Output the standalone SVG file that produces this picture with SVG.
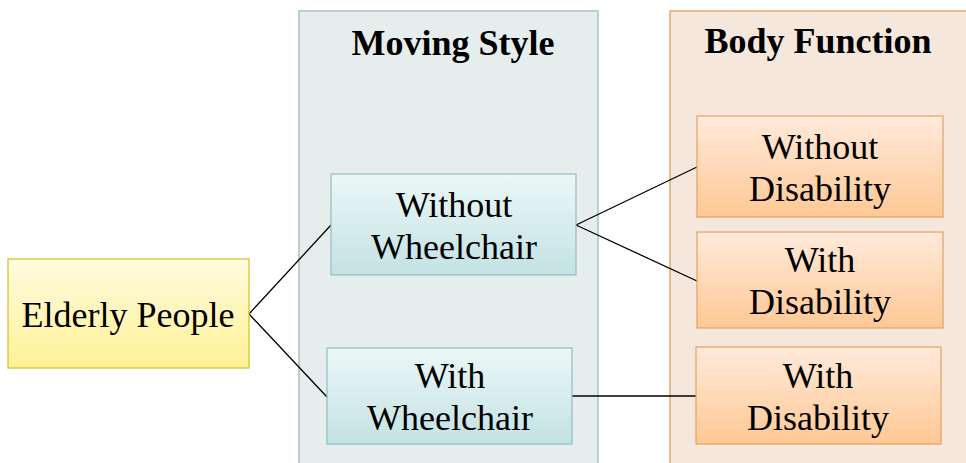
<svg xmlns="http://www.w3.org/2000/svg" width="966" height="463" viewBox="0 0 966 463">
  <defs>
    <linearGradient id="gYellow" x1="0" y1="0" x2="0" y2="1">
      <stop offset="0" stop-color="#fffbdf"/>
      <stop offset="1" stop-color="#fff196"/>
    </linearGradient>
    <linearGradient id="gTeal" x1="0" y1="0" x2="0" y2="1">
      <stop offset="0" stop-color="#ecf7f7"/>
      <stop offset="1" stop-color="#c3e2e3"/>
    </linearGradient>
    <linearGradient id="gOrange" x1="0" y1="0" x2="0" y2="1">
      <stop offset="0" stop-color="#ffeadb"/>
      <stop offset="1" stop-color="#ffc894"/>
    </linearGradient>
  </defs>
  <style>
    text { font-family: "Liberation Serif", "Times New Roman", serif; font-size: 36px; fill: #000; text-anchor: middle; }
    .title { font-weight: bold; }
    .panel-move { fill: #e6eeed; stroke: #a5c3c6; stroke-width: 1.5; }
    .panel-body { fill: #f5e7dc; stroke: #e3a870; stroke-width: 1.5; }
    .root { fill: url(#gYellow); stroke: #d6bd2a; stroke-width: 1.2; }
    .teal { fill: url(#gTeal); stroke: #93bcc0; stroke-width: 1.2; }
    .orange { fill: url(#gOrange); stroke: #e3a060; stroke-width: 1.2; }
    .link { stroke: #000; stroke-width: 1.3; fill: none; }
  </style>

  <!-- category panels -->
  <g id="panel-moving-style">
    <rect class="panel-move" x="299" y="11" width="299" height="460"/>
    <text class="title" x="453" y="55">Moving Style</text>
  </g>
  <g id="panel-body-function">
    <rect class="panel-body" x="670" y="11" width="310" height="460"/>
    <text class="title" x="818" y="53">Body Function</text>
  </g>

  <!-- connectors -->
  <g id="connectors">
    <line class="link" x1="249" y1="314" x2="331" y2="225"/>
    <line class="link" x1="249" y1="314" x2="327" y2="397"/>
    <line class="link" x1="576" y1="225" x2="697" y2="167"/>
    <line class="link" x1="576" y1="225" x2="697" y2="281"/>
    <line class="link" x1="572" y1="396" x2="696" y2="396"/>
  </g>

  <!-- nodes -->
  <g id="elderly-people">
    <rect class="root" x="8" y="259" width="241" height="109"/>
    <text x="128" y="327">Elderly People</text>
  </g>
  <g id="without-wheelchair">
    <rect class="teal" x="331" y="174" width="245" height="101"/>
    <text x="454" y="217">Without</text>
    <text x="454" y="259">Wheelchair</text>
  </g>
  <g id="with-wheelchair">
    <rect class="teal" x="327" y="348" width="245" height="96"/>
    <text x="450" y="388">With</text>
    <text x="450" y="430">Wheelchair</text>
  </g>
  <g id="without-disability">
    <rect class="orange" x="697" y="116" width="246" height="101"/>
    <text x="820" y="159">Without</text>
    <text x="820" y="201">Disability</text>
  </g>
  <g id="with-disability-1">
    <rect class="orange" x="697" y="232" width="246" height="96"/>
    <text x="820" y="272">With</text>
    <text x="820" y="314">Disability</text>
  </g>
  <g id="with-disability-2">
    <rect class="orange" x="696" y="347" width="245" height="97"/>
    <text x="818" y="388">With</text>
    <text x="818" y="430">Disability</text>
  </g>
</svg>
